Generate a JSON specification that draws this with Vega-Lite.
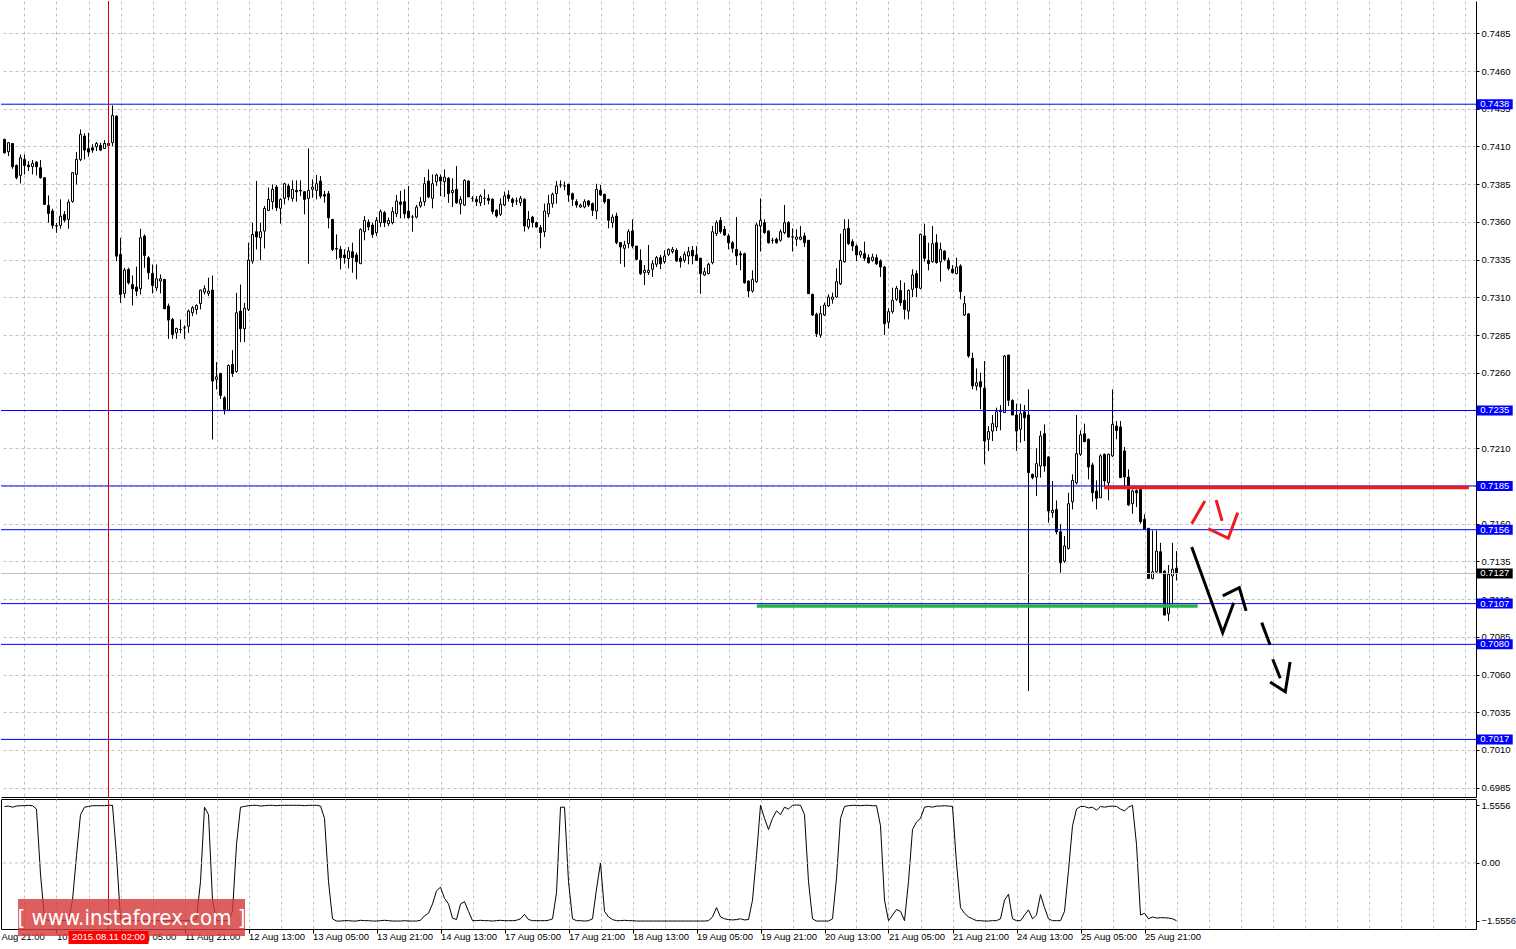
{
"$schema": "https://vega.github.io/schema/vega-lite/v6.json",
"padding": 0,
"background": "#ffffff",
"spacing": 2,
"bounds": "flush",
"config": {"view": {"stroke": null}, "scale": {"continuousPadding": 0}, "axis": {"labelFont": "Liberation Sans", "labelFontSize": 9.5, "labelColor": "#000000", "domainColor": "#000000", "tickColor": "#000000", "gridColor": "#c0c0c0", "gridDash": [3,3], "labelOverlap": false, "labelFlush": false}},
"datasets": {
"candles": [
{"j":0,"o":0.74147,"h":0.74151,"l":0.74054,"c":0.74058,"v":1.52},
{"j":1,"o":0.74065,"h":0.74129,"l":0.74036,"c":0.74125,"v":1.53},
{"j":2,"o":0.74120,"h":0.74120,"l":0.73952,"c":0.73966,"v":1.50},
{"j":3,"o":0.73974,"h":0.73981,"l":0.73882,"c":0.73893,"v":1.53},
{"j":4,"o":0.73908,"h":0.74047,"l":0.73855,"c":0.74025,"v":1.54},
{"j":5,"o":0.74014,"h":0.74047,"l":0.73915,"c":0.73974,"v":1.54},
{"j":6,"o":0.73977,"h":0.74003,"l":0.73937,"c":0.73966,"v":1.55},
{"j":7,"o":0.73966,"h":0.74010,"l":0.73915,"c":0.73988,"v":1.54},
{"j":8,"o":0.73996,"h":0.74003,"l":0.73908,"c":0.73966,"v":1.45},
{"j":9,"o":0.73959,"h":0.74010,"l":0.73886,"c":0.73893,"v":-0.3},
{"j":10,"o":0.73893,"h":0.73893,"l":0.73716,"c":0.73716,"v":-1.5},
{"j":11,"o":0.73709,"h":0.73775,"l":0.73594,"c":0.73656,"v":-1.55},
{"j":12,"o":0.73672,"h":0.73687,"l":0.73555,"c":0.73577,"v":-1.55},
{"j":13,"o":0.73573,"h":0.73594,"l":0.73528,"c":0.73575,"v":-1.55},
{"j":14,"o":0.73577,"h":0.73749,"l":0.73555,"c":0.73638,"v":-1.55},
{"j":15,"o":0.73649,"h":0.73672,"l":0.73599,"c":0.73612,"v":-1.55},
{"j":16,"o":0.73616,"h":0.73749,"l":0.73555,"c":0.73731,"v":-1.55},
{"j":17,"o":0.73736,"h":0.73930,"l":0.73727,"c":0.73926,"v":-1.0},
{"j":18,"o":0.73915,"h":0.74063,"l":0.73848,"c":0.74014,"v":0.2},
{"j":19,"o":0.74014,"h":0.74213,"l":0.74003,"c":0.74180,"v":1.3},
{"j":20,"o":0.74169,"h":0.74187,"l":0.74014,"c":0.74076,"v":1.50},
{"j":21,"o":0.74085,"h":0.74191,"l":0.74032,"c":0.74063,"v":1.52},
{"j":22,"o":0.74091,"h":0.74114,"l":0.74058,"c":0.74076,"v":1.54},
{"j":23,"o":0.74098,"h":0.74129,"l":0.74069,"c":0.74120,"v":1.54},
{"j":24,"o":0.74107,"h":0.74125,"l":0.74069,"c":0.74076,"v":1.54},
{"j":25,"o":0.74087,"h":0.74142,"l":0.74085,"c":0.74120,"v":1.54},
{"j":26,"o":0.74120,"h":0.74129,"l":0.74102,"c":0.74107,"v":1.55},
{"j":27,"o":0.74125,"h":0.74372,"l":0.74102,"c":0.74306,"v":1.55},
{"j":28,"o":0.74301,"h":0.74306,"l":0.73340,"c":0.73373,"v":0.2},
{"j":29,"o":0.73384,"h":0.73495,"l":0.73064,"c":0.73119,"v":-1.5},
{"j":30,"o":0.73126,"h":0.73296,"l":0.73097,"c":0.73281,"v":-1.55},
{"j":31,"o":0.73285,"h":0.73296,"l":0.73185,"c":0.73196,"v":-1.55},
{"j":32,"o":0.73185,"h":0.73245,"l":0.73046,"c":0.73157,"v":-1.55},
{"j":33,"o":0.73168,"h":0.73303,"l":0.73108,"c":0.73141,"v":-1.55},
{"j":34,"o":0.73157,"h":0.73555,"l":0.73119,"c":0.73495,"v":-1.55},
{"j":35,"o":0.73506,"h":0.73517,"l":0.73296,"c":0.73378,"v":-1.55},
{"j":36,"o":0.73362,"h":0.73373,"l":0.73219,"c":0.73263,"v":-1.55},
{"j":37,"o":0.73258,"h":0.73318,"l":0.73126,"c":0.73179,"v":-1.55},
{"j":38,"o":0.73163,"h":0.73318,"l":0.73141,"c":0.73223,"v":-1.55},
{"j":39,"o":0.73208,"h":0.73252,"l":0.73126,"c":0.73223,"v":-1.55},
{"j":40,"o":0.73219,"h":0.73219,"l":0.73024,"c":0.73024,"v":-1.55},
{"j":41,"o":0.73042,"h":0.73059,"l":0.72825,"c":0.72949,"v":-1.55},
{"j":42,"o":0.72953,"h":0.72964,"l":0.72825,"c":0.72854,"v":-1.55},
{"j":43,"o":0.72865,"h":0.72898,"l":0.72825,"c":0.72894,"v":-1.55},
{"j":44,"o":0.72887,"h":0.72953,"l":0.72861,"c":0.72887,"v":-1.55},
{"j":45,"o":0.72898,"h":0.72914,"l":0.72825,"c":0.72898,"v":-1.55},
{"j":46,"o":0.72909,"h":0.73020,"l":0.72865,"c":0.73009,"v":-1.55},
{"j":47,"o":0.72998,"h":0.73042,"l":0.72975,"c":0.73031,"v":-1.55},
{"j":48,"o":0.73020,"h":0.73053,"l":0.72987,"c":0.73046,"v":-1.5},
{"j":49,"o":0.73059,"h":0.73152,"l":0.73020,"c":0.73148,"v":-0.5},
{"j":50,"o":0.73135,"h":0.73179,"l":0.73119,"c":0.73157,"v":1.50},
{"j":51,"o":0.73126,"h":0.73230,"l":0.73108,"c":0.73141,"v":1.3},
{"j":52,"o":0.73148,"h":0.73245,"l":0.72158,"c":0.72545,"v":-1.0},
{"j":53,"o":0.72556,"h":0.72670,"l":0.72489,"c":0.72573,"v":-1.55},
{"j":54,"o":0.72595,"h":0.72600,"l":0.72427,"c":0.72450,"v":-1.55},
{"j":55,"o":0.72434,"h":0.72445,"l":0.72324,"c":0.72357,"v":-1.55},
{"j":56,"o":0.72352,"h":0.72655,"l":0.72346,"c":0.72648,"v":-1.55},
{"j":57,"o":0.72655,"h":0.72750,"l":0.72573,"c":0.72595,"v":-1.3},
{"j":58,"o":0.72609,"h":0.73130,"l":0.72600,"c":0.72998,"v":0.5},
{"j":59,"o":0.73009,"h":0.73185,"l":0.72803,"c":0.72892,"v":1.50},
{"j":60,"o":0.72892,"h":0.73064,"l":0.72803,"c":0.73028,"v":1.52},
{"j":61,"o":0.73020,"h":0.73462,"l":0.73009,"c":0.73347,"v":1.54},
{"j":62,"o":0.73340,"h":0.73595,"l":0.73323,"c":0.73517,"v":1.55},
{"j":63,"o":0.73535,"h":0.73871,"l":0.73418,"c":0.73500,"v":1.55},
{"j":64,"o":0.73495,"h":0.73595,"l":0.73345,"c":0.73535,"v":1.53},
{"j":65,"o":0.73539,"h":0.73705,"l":0.73424,"c":0.73690,"v":1.54},
{"j":66,"o":0.73676,"h":0.73827,"l":0.73672,"c":0.73749,"v":1.55},
{"j":67,"o":0.73734,"h":0.73849,"l":0.73683,"c":0.73816,"v":1.55},
{"j":68,"o":0.73831,"h":0.73844,"l":0.73672,"c":0.73694,"v":1.54},
{"j":69,"o":0.73690,"h":0.73756,"l":0.73588,"c":0.73749,"v":1.55},
{"j":70,"o":0.73756,"h":0.73860,"l":0.73716,"c":0.73853,"v":1.55},
{"j":71,"o":0.73838,"h":0.73853,"l":0.73743,"c":0.73765,"v":1.55},
{"j":72,"o":0.73756,"h":0.73875,"l":0.73734,"c":0.73816,"v":1.55},
{"j":73,"o":0.73809,"h":0.73875,"l":0.73734,"c":0.73800,"v":1.55},
{"j":74,"o":0.73809,"h":0.73875,"l":0.73771,"c":0.73805,"v":1.55},
{"j":75,"o":0.73800,"h":0.73805,"l":0.73650,"c":0.73749,"v":1.54},
{"j":76,"o":0.73756,"h":0.74087,"l":0.73323,"c":0.73809,"v":1.55},
{"j":77,"o":0.73816,"h":0.73882,"l":0.73760,"c":0.73831,"v":1.55},
{"j":78,"o":0.73809,"h":0.73911,"l":0.73749,"c":0.73853,"v":1.55},
{"j":79,"o":0.73871,"h":0.73904,"l":0.73756,"c":0.73771,"v":1.53},
{"j":80,"o":0.73782,"h":0.73805,"l":0.73727,"c":0.73771,"v":1.2},
{"j":81,"o":0.73787,"h":0.73805,"l":0.73557,"c":0.73628,"v":-0.5},
{"j":82,"o":0.73617,"h":0.73617,"l":0.73407,"c":0.73418,"v":-1.5},
{"j":83,"o":0.73423,"h":0.73517,"l":0.73352,"c":0.73420,"v":-1.56},
{"j":84,"o":0.73418,"h":0.73440,"l":0.73285,"c":0.73363,"v":-1.56},
{"j":85,"o":0.73380,"h":0.73418,"l":0.73323,"c":0.73363,"v":-1.55},
{"j":86,"o":0.73358,"h":0.73433,"l":0.73292,"c":0.73407,"v":-1.55},
{"j":87,"o":0.73402,"h":0.73462,"l":0.73263,"c":0.73363,"v":-1.56},
{"j":88,"o":0.73380,"h":0.73396,"l":0.73219,"c":0.73336,"v":-1.56},
{"j":89,"o":0.73323,"h":0.73557,"l":0.73323,"c":0.73550,"v":-1.54},
{"j":90,"o":0.73535,"h":0.73639,"l":0.73478,"c":0.73610,"v":-1.55},
{"j":91,"o":0.73599,"h":0.73617,"l":0.73544,"c":0.73566,"v":-1.55},
{"j":92,"o":0.73579,"h":0.73595,"l":0.73495,"c":0.73517,"v":-1.56},
{"j":93,"o":0.73528,"h":0.73632,"l":0.73506,"c":0.73610,"v":-1.56},
{"j":94,"o":0.73595,"h":0.73683,"l":0.73566,"c":0.73668,"v":-1.55},
{"j":95,"o":0.73661,"h":0.73672,"l":0.73566,"c":0.73595,"v":-1.54},
{"j":96,"o":0.73588,"h":0.73628,"l":0.73573,"c":0.73610,"v":-1.55},
{"j":97,"o":0.73595,"h":0.73698,"l":0.73584,"c":0.73668,"v":-1.56},
{"j":98,"o":0.73654,"h":0.73778,"l":0.73632,"c":0.73738,"v":-1.56},
{"j":99,"o":0.73732,"h":0.73805,"l":0.73623,"c":0.73716,"v":-1.56},
{"j":100,"o":0.73734,"h":0.73816,"l":0.73623,"c":0.73654,"v":-1.55},
{"j":101,"o":0.73672,"h":0.73838,"l":0.73623,"c":0.73628,"v":-1.56},
{"j":102,"o":0.73632,"h":0.73645,"l":0.73535,"c":0.73632,"v":-1.56},
{"j":103,"o":0.73632,"h":0.73712,"l":0.73623,"c":0.73698,"v":-1.56},
{"j":104,"o":0.73705,"h":0.73765,"l":0.73694,"c":0.73732,"v":-1.54},
{"j":105,"o":0.73734,"h":0.73897,"l":0.73705,"c":0.73853,"v":-1.42},
{"j":106,"o":0.73871,"h":0.73948,"l":0.73756,"c":0.73765,"v":-1.35},
{"j":107,"o":0.73756,"h":0.73915,"l":0.73690,"c":0.73853,"v":-1.1},
{"j":108,"o":0.73866,"h":0.73920,"l":0.73838,"c":0.73911,"v":-0.75},
{"j":109,"o":0.73897,"h":0.73915,"l":0.73771,"c":0.73871,"v":-0.65},
{"j":110,"o":0.73866,"h":0.73948,"l":0.73765,"c":0.73897,"v":-0.95},
{"j":111,"o":0.73889,"h":0.73897,"l":0.73727,"c":0.73787,"v":-1.1},
{"j":112,"o":0.73794,"h":0.73889,"l":0.73699,"c":0.73809,"v":-1.48},
{"j":113,"o":0.73816,"h":0.73970,"l":0.73720,"c":0.73727,"v":-1.52},
{"j":114,"o":0.73720,"h":0.73771,"l":0.73650,"c":0.73749,"v":-1.1},
{"j":115,"o":0.73712,"h":0.73882,"l":0.73705,"c":0.73875,"v":-1.04},
{"j":116,"o":0.73871,"h":0.73875,"l":0.73765,"c":0.73765,"v":-1.3},
{"j":117,"o":0.73756,"h":0.73771,"l":0.73734,"c":0.73756,"v":-1.55},
{"j":118,"o":0.73749,"h":0.73771,"l":0.73705,"c":0.73734,"v":-1.55},
{"j":119,"o":0.73727,"h":0.73782,"l":0.73705,"c":0.73771,"v":-1.54},
{"j":120,"o":0.73756,"h":0.73816,"l":0.73712,"c":0.73756,"v":-1.55},
{"j":121,"o":0.73756,"h":0.73783,"l":0.73717,"c":0.73743,"v":-1.55},
{"j":122,"o":0.73750,"h":0.73756,"l":0.73650,"c":0.73668,"v":-1.56},
{"j":123,"o":0.73677,"h":0.73684,"l":0.73628,"c":0.73639,"v":-1.55},
{"j":124,"o":0.73650,"h":0.73756,"l":0.73639,"c":0.73717,"v":-1.54},
{"j":125,"o":0.73712,"h":0.73801,"l":0.73705,"c":0.73772,"v":-1.55},
{"j":126,"o":0.73779,"h":0.73809,"l":0.73734,"c":0.73756,"v":-1.55},
{"j":127,"o":0.73750,"h":0.73761,"l":0.73699,"c":0.73728,"v":-1.55},
{"j":128,"o":0.73739,"h":0.73761,"l":0.73712,"c":0.73739,"v":-1.54},
{"j":129,"o":0.73728,"h":0.73772,"l":0.73705,"c":0.73756,"v":-1.5},
{"j":130,"o":0.73750,"h":0.73756,"l":0.73535,"c":0.73573,"v":-1.38},
{"j":131,"o":0.73566,"h":0.73672,"l":0.73551,"c":0.73617,"v":-1.52},
{"j":132,"o":0.73632,"h":0.73639,"l":0.73562,"c":0.73595,"v":-1.55},
{"j":133,"o":0.73595,"h":0.73602,"l":0.73562,"c":0.73566,"v":-1.55},
{"j":134,"o":0.73562,"h":0.73580,"l":0.73425,"c":0.73529,"v":-1.55},
{"j":135,"o":0.73535,"h":0.73721,"l":0.73500,"c":0.73672,"v":-1.55},
{"j":136,"o":0.73654,"h":0.73779,"l":0.73632,"c":0.73721,"v":-1.54},
{"j":137,"o":0.73721,"h":0.73794,"l":0.73694,"c":0.73783,"v":-1.5},
{"j":138,"o":0.73787,"h":0.73871,"l":0.73721,"c":0.73838,"v":-0.8},
{"j":139,"o":0.73845,"h":0.73875,"l":0.73827,"c":0.73845,"v":1.5},
{"j":140,"o":0.73838,"h":0.73867,"l":0.73809,"c":0.73838,"v":1.5},
{"j":141,"o":0.73849,"h":0.73853,"l":0.73734,"c":0.73779,"v":-0.5},
{"j":142,"o":0.73787,"h":0.73794,"l":0.73706,"c":0.73750,"v":-1.5},
{"j":143,"o":0.73734,"h":0.73750,"l":0.73694,"c":0.73712,"v":-1.55},
{"j":144,"o":0.73699,"h":0.73721,"l":0.73694,"c":0.73712,"v":-1.55},
{"j":145,"o":0.73699,"h":0.73750,"l":0.73690,"c":0.73734,"v":-1.56},
{"j":146,"o":0.73739,"h":0.73743,"l":0.73699,"c":0.73712,"v":-1.55},
{"j":147,"o":0.73721,"h":0.73728,"l":0.73639,"c":0.73677,"v":-1.5},
{"j":148,"o":0.73672,"h":0.73853,"l":0.73617,"c":0.73816,"v":-0.7},
{"j":149,"o":0.73809,"h":0.73845,"l":0.73772,"c":0.73779,"v":0.0},
{"j":150,"o":0.73783,"h":0.73787,"l":0.73721,"c":0.73734,"v":-1.3},
{"j":151,"o":0.73750,"h":0.73750,"l":0.73558,"c":0.73611,"v":-1.45},
{"j":152,"o":0.73595,"h":0.73650,"l":0.73562,"c":0.73632,"v":-1.52},
{"j":153,"o":0.73639,"h":0.73661,"l":0.73452,"c":0.73463,"v":-1.55},
{"j":154,"o":0.73463,"h":0.73463,"l":0.73323,"c":0.73434,"v":-1.55},
{"j":155,"o":0.73425,"h":0.73474,"l":0.73301,"c":0.73447,"v":-1.54},
{"j":156,"o":0.73456,"h":0.73551,"l":0.73425,"c":0.73535,"v":-1.55},
{"j":157,"o":0.73540,"h":0.73617,"l":0.73425,"c":0.73440,"v":-1.55},
{"j":158,"o":0.73440,"h":0.73440,"l":0.73345,"c":0.73352,"v":-1.56},
{"j":159,"o":0.73345,"h":0.73418,"l":0.73248,"c":0.73257,"v":-1.56},
{"j":160,"o":0.73264,"h":0.73314,"l":0.73182,"c":0.73279,"v":-1.56},
{"j":161,"o":0.73264,"h":0.73447,"l":0.73248,"c":0.73279,"v":-1.56},
{"j":162,"o":0.73286,"h":0.73345,"l":0.73235,"c":0.73323,"v":-1.56},
{"j":163,"o":0.73319,"h":0.73374,"l":0.73301,"c":0.73363,"v":-1.56},
{"j":164,"o":0.73363,"h":0.73381,"l":0.73286,"c":0.73323,"v":-1.56},
{"j":165,"o":0.73337,"h":0.73412,"l":0.73323,"c":0.73374,"v":-1.56},
{"j":166,"o":0.73385,"h":0.73425,"l":0.73374,"c":0.73418,"v":-1.56},
{"j":167,"o":0.73403,"h":0.73434,"l":0.73390,"c":0.73418,"v":-1.56},
{"j":168,"o":0.73412,"h":0.73425,"l":0.73337,"c":0.73341,"v":-1.56},
{"j":169,"o":0.73359,"h":0.73374,"l":0.73297,"c":0.73337,"v":-1.56},
{"j":170,"o":0.73345,"h":0.73403,"l":0.73330,"c":0.73385,"v":-1.56},
{"j":171,"o":0.73374,"h":0.73434,"l":0.73319,"c":0.73403,"v":-1.56},
{"j":172,"o":0.73412,"h":0.73440,"l":0.73319,"c":0.73374,"v":-1.56},
{"j":173,"o":0.73381,"h":0.73440,"l":0.73341,"c":0.73345,"v":-1.56},
{"j":174,"o":0.73359,"h":0.73363,"l":0.73124,"c":0.73257,"v":-1.56},
{"j":175,"o":0.73248,"h":0.73297,"l":0.73242,"c":0.73270,"v":-1.56},
{"j":176,"o":0.73257,"h":0.73330,"l":0.73253,"c":0.73319,"v":-1.55},
{"j":177,"o":0.73330,"h":0.73573,"l":0.73319,"c":0.73535,"v":-1.45},
{"j":178,"o":0.73522,"h":0.73610,"l":0.73507,"c":0.73595,"v":-1.2},
{"j":179,"o":0.73610,"h":0.73632,"l":0.73522,"c":0.73535,"v":-1.45},
{"j":180,"o":0.73551,"h":0.73573,"l":0.73507,"c":0.73513,"v":-1.5},
{"j":181,"o":0.73507,"h":0.73522,"l":0.73418,"c":0.73462,"v":-1.52},
{"j":182,"o":0.73462,"h":0.73473,"l":0.73396,"c":0.73425,"v":-1.53},
{"j":183,"o":0.73418,"h":0.73632,"l":0.73314,"c":0.73374,"v":-1.52},
{"j":184,"o":0.73389,"h":0.73407,"l":0.73279,"c":0.73381,"v":-1.5},
{"j":185,"o":0.73389,"h":0.73396,"l":0.73191,"c":0.73197,"v":-1.53},
{"j":186,"o":0.73208,"h":0.73213,"l":0.73102,"c":0.73142,"v":-1.52},
{"j":187,"o":0.73142,"h":0.73279,"l":0.73131,"c":0.73219,"v":-1.0},
{"j":188,"o":0.73204,"h":0.73595,"l":0.73197,"c":0.73580,"v":0.2},
{"j":189,"o":0.73573,"h":0.73756,"l":0.73403,"c":0.73610,"v":1.55},
{"j":190,"o":0.73595,"h":0.73617,"l":0.73522,"c":0.73529,"v":1.2},
{"j":191,"o":0.73540,"h":0.73544,"l":0.73456,"c":0.73462,"v":0.9},
{"j":192,"o":0.73478,"h":0.73495,"l":0.73456,"c":0.73478,"v":1.2},
{"j":193,"o":0.73485,"h":0.73495,"l":0.73456,"c":0.73462,"v":1.4},
{"j":194,"o":0.73478,"h":0.73551,"l":0.73469,"c":0.73535,"v":1.3},
{"j":195,"o":0.73529,"h":0.73712,"l":0.73518,"c":0.73595,"v":1.5},
{"j":196,"o":0.73595,"h":0.73606,"l":0.73496,"c":0.73500,"v":1.45},
{"j":197,"o":0.73500,"h":0.73557,"l":0.73403,"c":0.73500,"v":1.55},
{"j":198,"o":0.73485,"h":0.73551,"l":0.73440,"c":0.73500,"v":1.56},
{"j":199,"o":0.73485,"h":0.73573,"l":0.73478,"c":0.73500,"v":1.55},
{"j":200,"o":0.73507,"h":0.73529,"l":0.73434,"c":0.73462,"v":1.3},
{"j":201,"o":0.73478,"h":0.73478,"l":0.73124,"c":0.73124,"v":-0.5},
{"j":202,"o":0.73120,"h":0.73124,"l":0.72976,"c":0.72983,"v":-1.5},
{"j":203,"o":0.72987,"h":0.72998,"l":0.72837,"c":0.72859,"v":-1.56},
{"j":204,"o":0.72850,"h":0.73043,"l":0.72832,"c":0.72992,"v":-1.56},
{"j":205,"o":0.72983,"h":0.73065,"l":0.72976,"c":0.73049,"v":-1.56},
{"j":206,"o":0.73043,"h":0.73120,"l":0.73036,"c":0.73102,"v":-1.56},
{"j":207,"o":0.73087,"h":0.73131,"l":0.73058,"c":0.73102,"v":-1.5},
{"j":208,"o":0.73102,"h":0.73292,"l":0.73098,"c":0.73204,"v":-0.4},
{"j":209,"o":0.73190,"h":0.73522,"l":0.73182,"c":0.73345,"v":1.2},
{"j":210,"o":0.73336,"h":0.73617,"l":0.73330,"c":0.73551,"v":1.52},
{"j":211,"o":0.73557,"h":0.73617,"l":0.73447,"c":0.73456,"v":1.54},
{"j":212,"o":0.73469,"h":0.73485,"l":0.73407,"c":0.73440,"v":1.55},
{"j":213,"o":0.73440,"h":0.73451,"l":0.73341,"c":0.73381,"v":1.55},
{"j":214,"o":0.73381,"h":0.73412,"l":0.73363,"c":0.73403,"v":1.54},
{"j":215,"o":0.73389,"h":0.73469,"l":0.73341,"c":0.73359,"v":1.55},
{"j":216,"o":0.73363,"h":0.73385,"l":0.73323,"c":0.73330,"v":1.55},
{"j":217,"o":0.73345,"h":0.73389,"l":0.73336,"c":0.73367,"v":1.54},
{"j":218,"o":0.73363,"h":0.73385,"l":0.73314,"c":0.73323,"v":1.54},
{"j":219,"o":0.73341,"h":0.73352,"l":0.73235,"c":0.73301,"v":1.0},
{"j":220,"o":0.73301,"h":0.73308,"l":0.72850,"c":0.72925,"v":-1.0},
{"j":221,"o":0.72936,"h":0.73027,"l":0.72894,"c":0.73005,"v":-1.55},
{"j":222,"o":0.73005,"h":0.73164,"l":0.72992,"c":0.73080,"v":-1.4},
{"j":223,"o":0.73087,"h":0.73175,"l":0.73076,"c":0.73160,"v":-1.25},
{"j":224,"o":0.73146,"h":0.73213,"l":0.73043,"c":0.73065,"v":-1.3},
{"j":225,"o":0.73080,"h":0.73197,"l":0.72954,"c":0.73020,"v":-1.55},
{"j":226,"o":0.73009,"h":0.73153,"l":0.72954,"c":0.73146,"v":-0.5},
{"j":227,"o":0.73153,"h":0.73286,"l":0.73102,"c":0.73248,"v":0.9},
{"j":228,"o":0.73257,"h":0.73279,"l":0.73102,"c":0.73164,"v":1.1},
{"j":229,"o":0.73160,"h":0.73522,"l":0.73153,"c":0.73518,"v":1.2},
{"j":230,"o":0.73507,"h":0.73588,"l":0.73336,"c":0.73359,"v":1.5},
{"j":231,"o":0.73345,"h":0.73462,"l":0.73279,"c":0.73323,"v":1.52},
{"j":232,"o":0.73336,"h":0.73573,"l":0.73330,"c":0.73456,"v":1.5},
{"j":233,"o":0.73462,"h":0.73518,"l":0.73323,"c":0.73330,"v":1.53},
{"j":234,"o":0.73336,"h":0.73462,"l":0.73204,"c":0.73418,"v":1.53},
{"j":235,"o":0.73407,"h":0.73412,"l":0.73341,"c":0.73352,"v":1.54},
{"j":236,"o":0.73345,"h":0.73363,"l":0.73279,"c":0.73292,"v":1.53},
{"j":237,"o":0.73286,"h":0.73314,"l":0.73257,"c":0.73264,"v":1.52},
{"j":238,"o":0.73257,"h":0.73363,"l":0.73253,"c":0.73301,"v":0.0},
{"j":239,"o":0.73308,"h":0.73319,"l":0.73087,"c":0.73138,"v":-1.2},
{"j":240,"o":0.72983,"h":0.73109,"l":0.72976,"c":0.73058,"v":-1.35},
{"j":241,"o":0.72990,"h":0.72995,"l":0.72700,"c":0.72711,"v":-1.45},
{"j":242,"o":0.72696,"h":0.72733,"l":0.72490,"c":0.72513,"v":-1.5},
{"j":243,"o":0.72513,"h":0.72629,"l":0.72483,"c":0.72534,"v":-1.55},
{"j":244,"o":0.72541,"h":0.72601,"l":0.72358,"c":0.72506,"v":-1.55},
{"j":245,"o":0.72497,"h":0.72678,"l":0.71993,"c":0.72148,"v":-1.56},
{"j":246,"o":0.72159,"h":0.72247,"l":0.72082,"c":0.72210,"v":-1.56},
{"j":247,"o":0.72214,"h":0.72320,"l":0.72148,"c":0.72263,"v":-1.55},
{"j":248,"o":0.72241,"h":0.72369,"l":0.72214,"c":0.72342,"v":-1.55},
{"j":249,"o":0.72342,"h":0.72386,"l":0.72219,"c":0.72351,"v":-1.5},
{"j":250,"o":0.72336,"h":0.72718,"l":0.72336,"c":0.72711,"v":-1.0},
{"j":251,"o":0.72718,"h":0.72718,"l":0.72380,"c":0.72417,"v":-0.84},
{"j":252,"o":0.72417,"h":0.72424,"l":0.72320,"c":0.72320,"v":-1.5},
{"j":253,"o":0.72320,"h":0.72395,"l":0.72082,"c":0.72214,"v":-1.55},
{"j":254,"o":0.72225,"h":0.72395,"l":0.72137,"c":0.72329,"v":-1.55},
{"j":255,"o":0.72342,"h":0.72386,"l":0.72148,"c":0.72302,"v":-1.4},
{"j":256,"o":0.72320,"h":0.72490,"l":0.70491,"c":0.71938,"v":-1.26},
{"j":257,"o":0.71927,"h":0.71931,"l":0.71894,"c":0.71905,"v":-1.5},
{"j":258,"o":0.71909,"h":0.72099,"l":0.71783,"c":0.71998,"v":-1.4},
{"j":259,"o":0.71982,"h":0.72214,"l":0.71905,"c":0.72181,"v":-0.85},
{"j":260,"o":0.72196,"h":0.72258,"l":0.71944,"c":0.71982,"v":-1.2},
{"j":261,"o":0.72042,"h":0.72048,"l":0.71606,"c":0.71684,"v":-1.5},
{"j":262,"o":0.71673,"h":0.71883,"l":0.71639,"c":0.71688,"v":-1.55},
{"j":263,"o":0.71694,"h":0.71754,"l":0.71529,"c":0.71546,"v":-1.55},
{"j":264,"o":0.71546,"h":0.71595,"l":0.71275,"c":0.71341,"v":-1.55},
{"j":265,"o":0.71352,"h":0.71518,"l":0.71341,"c":0.71452,"v":-1.3},
{"j":266,"o":0.71436,"h":0.71805,"l":0.71429,"c":0.71732,"v":-0.2},
{"j":267,"o":0.71745,"h":0.71927,"l":0.71694,"c":0.71887,"v":1.0},
{"j":268,"o":0.71871,"h":0.72320,"l":0.71860,"c":0.72064,"v":1.45},
{"j":269,"o":0.72060,"h":0.72219,"l":0.72049,"c":0.72188,"v":1.52},
{"j":270,"o":0.72196,"h":0.72263,"l":0.72143,"c":0.72143,"v":1.52},
{"j":271,"o":0.72159,"h":0.72165,"l":0.71894,"c":0.71975,"v":1.48},
{"j":272,"o":0.71989,"h":0.72004,"l":0.71746,"c":0.71805,"v":1.5},
{"j":273,"o":0.71816,"h":0.71887,"l":0.71695,"c":0.71768,"v":1.42},
{"j":274,"o":0.71772,"h":0.72060,"l":0.71772,"c":0.72049,"v":1.52},
{"j":275,"o":0.72060,"h":0.72064,"l":0.71838,"c":0.71883,"v":1.5},
{"j":276,"o":0.71871,"h":0.72064,"l":0.71754,"c":0.72060,"v":1.52},
{"j":277,"o":0.72049,"h":0.72490,"l":0.72042,"c":0.72258,"v":1.53},
{"j":278,"o":0.72247,"h":0.72280,"l":0.72159,"c":0.72218,"v":1.52},
{"j":279,"o":0.72241,"h":0.72280,"l":0.71905,"c":0.71905,"v":1.45},
{"j":280,"o":0.72082,"h":0.72108,"l":0.71827,"c":0.71909,"v":1.4},
{"j":281,"o":0.71909,"h":0.71960,"l":0.71717,"c":0.71724,"v":1.5},
{"j":282,"o":0.71733,"h":0.71827,"l":0.71666,"c":0.71816,"v":1.55},
{"j":283,"o":0.71820,"h":0.71827,"l":0.71710,"c":0.71805,"v":0.5},
{"j":284,"o":0.71827,"h":0.71827,"l":0.71600,"c":0.71613,"v":-1.4},
{"j":285,"o":0.71628,"h":0.71662,"l":0.71562,"c":0.71562,"v":-1.35},
{"j":286,"o":0.71569,"h":0.71569,"l":0.71237,"c":0.71237,"v":-1.5},
{"j":287,"o":0.71237,"h":0.71555,"l":0.71230,"c":0.71281,"v":-1.45},
{"j":288,"o":0.71281,"h":0.71555,"l":0.71275,"c":0.71418,"v":-1.48},
{"j":289,"o":0.71414,"h":0.71473,"l":0.71268,"c":0.71275,"v":-1.47},
{"j":290,"o":0.71286,"h":0.71290,"l":0.70994,"c":0.70994,"v":-1.47},
{"j":291,"o":0.71003,"h":0.71326,"l":0.70954,"c":0.71264,"v":-1.48},
{"j":292,"o":0.71253,"h":0.71473,"l":0.71065,"c":0.71297,"v":-1.5},
{"j":293,"o":0.71304,"h":0.71418,"l":0.71224,"c":0.71270,"v":-1.55}
],
"levels": [
{"p":0.7438,"t":"0.7438"},{"p":0.7235,"t":"0.7235"},{"p":0.7185,"t":"0.7185"},{"p":0.7156,"t":"0.7156"},{"p":0.7107,"t":"0.7107"},{"p":0.7080,"t":"0.7080"},{"p":0.7017,"t":"0.7017"}
],
"bid": [{"p":0.7127,"t":"0.7127"}],
"cross": [{"j":26,"t":"2015.08.11 02:00"}],
"zones": [
{"j1":274.9,"j2":366.1,"p":0.7184,"g":"resistance"},
{"j1":188.1,"j2":298.3,"p":0.71054,"g":"support"}
],
"paths": [
{"s":"r1","k":0,"j":296.8,"p":0.7160,"g":"alt"},
{"s":"r1","k":1,"j":300.1,"p":0.7175,"g":"alt"},
{"s":"r2","k":0,"j":302.9,"p":0.71757,"g":"alt"},
{"s":"r2","k":1,"j":304.4,"p":0.71618,"g":"alt"},
{"s":"r3","k":0,"j":300.95,"p":0.71567,"g":"alt"},
{"s":"r3","k":1,"j":305.95,"p":0.71503,"g":"alt"},
{"s":"r3","k":2,"j":308.3,"p":0.71673,"g":"alt"},
{"s":"b1","k":0,"j":296.8,"p":0.71445,"g":"main"},
{"s":"b1","k":1,"j":304.55,"p":0.70877,"g":"main"},
{"s":"b1","k":2,"j":307.3,"p":0.71076,"g":"main"},
{"s":"b2","k":0,"j":304.55,"p":0.71121,"g":"main"},
{"s":"b2","k":1,"j":308.7,"p":0.71176,"g":"main"},
{"s":"b2","k":2,"j":310.4,"p":0.71022,"g":"main"},
{"s":"d1","k":0,"j":314.3,"p":0.70944,"g":"main"},
{"s":"d1","k":1,"j":316.4,"p":0.70796,"g":"main"},
{"s":"d2","k":0,"j":317.05,"p":0.70701,"g":"main"},
{"s":"d2","k":1,"j":318.95,"p":0.70575,"g":"main"},
{"s":"d3","k":0,"j":316.4,"p":0.7055,"g":"main"},
{"s":"d3","k":1,"j":320.2,"p":0.70486,"g":"main"},
{"s":"d3","k":2,"j":321.4,"p":0.70683,"g":"main"}
],
"brand": [{"t":"[  www.instaforex.com ]"}]
},
"vconcat": [
{
"width": 1475, "height": 796,
"layer": [
{"data": {"name": "candles"}, "mark": {"type": "rule", "color": "#000000", "strokeWidth": 1},
 "encoding": {
  "x": {"field": "j", "type": "quantitative", "title": null, "scale": {"domain": [-0.875, 367.875], "nice": false, "zero": false, "padding": 0},
        "axis": {"orient": "bottom", "values": [5,13,21,29,37,45,53,61,69,77,85,93,101,109,117,125,133,141,149,157,165,173,181,189,197,205,213,221,229,237,245,253,261,269,277,285,293,301,309,317,325,333,341,349,357,365], "tickCount": 500, "grid": true, "ticks": false, "labels": false, "domain": true, "title": null, "zindex": 0, "labelOverlap": false}},
  "y": {"field": "l", "type": "quantitative", "title": null, "scale": {"domain": [0.697883, 0.750641], "nice": false, "zero": false, "padding": 0},
        "axis": {"orient": "right", "values": [0.6985,0.7010,0.7035,0.7060,0.7085,0.7110,0.7135,0.7160,0.7185,0.7210,0.7235,0.7260,0.7285,0.7310,0.7335,0.7360,0.7385,0.7410,0.7435,0.7460,0.7485], "tickCount": 500, "format": ".4f", "grid": true, "tickSize": 3, "labelPadding": 2, "title": null, "zindex": 0, "labelOverlap": false, "labelBound": false}},
  "y2": {"field": "h"}}},
{"data": {"name": "candles"}, "mark": {"type": "bar", "size": 2, "stroke": "#000000", "strokeWidth": 1},
 "encoding": {
  "x": {"field": "j", "type": "quantitative", "title": null, "scale": {"domain": [-0.875, 367.875], "nice": false, "zero": false, "padding": 0}},
  "y": {"field": "o", "type": "quantitative", "title": null, "scale": {"domain": [0.697883, 0.750641], "nice": false, "zero": false, "padding": 0}},
  "y2": {"field": "c"},
  "fill": {"condition": {"test": "datum.c < datum.o", "value": "#000000"}, "value": "#ffffff"}}},
{"data": {"name": "bid"}, "mark": {"type": "rule", "color": "#c0c0c0", "strokeWidth": 1},
 "encoding": {"y": {"field": "p", "type": "quantitative", "title": null, "scale": {"domain": [0.697883, 0.750641], "nice": false, "zero": false, "padding": 0}}}},
{"data": {"name": "levels"}, "mark": {"type": "rule", "color": "#0000ff", "strokeWidth": 1},
 "encoding": {"y": {"field": "p", "type": "quantitative", "title": null, "scale": {"domain": [0.697883, 0.750641], "nice": false, "zero": false, "padding": 0}}}},
{"data": {"name": "cross"}, "mark": {"type": "rule", "color": "#e00000", "strokeWidth": 1},
 "encoding": {"x": {"field": "j", "type": "quantitative", "title": null, "scale": {"domain": [-0.875, 367.875], "nice": false, "zero": false, "padding": 0}}}},
{"data": {"name": "zones"}, "mark": {"type": "rule", "strokeWidth": 3.5},
 "encoding": {
  "x": {"field": "j1", "type": "quantitative", "title": null, "scale": {"domain": [-0.875, 367.875], "nice": false, "zero": false, "padding": 0}},
  "x2": {"field": "j2"},
  "y": {"field": "p", "type": "quantitative", "title": null, "scale": {"domain": [0.697883, 0.750641], "nice": false, "zero": false, "padding": 0}},
  "color": {"field": "g", "type": "nominal", "scale": {"domain": ["resistance","support","alt","main"], "range": ["#ed1c24","#22b14c","#ed1c24","#000000"]}, "legend": null}}},
{"data": {"name": "paths"}, "mark": {"type": "line", "strokeWidth": 3},
 "encoding": {
  "x": {"field": "j", "type": "quantitative", "title": null, "scale": {"domain": [-0.875, 367.875], "nice": false, "zero": false, "padding": 0}},
  "y": {"field": "p", "type": "quantitative", "title": null, "scale": {"domain": [0.697883, 0.750641], "nice": false, "zero": false, "padding": 0}},
  "detail": {"field": "s"},
  "order": {"field": "k", "type": "quantitative"},
  "color": {"field": "g", "type": "nominal", "scale": {"domain": ["resistance","support","alt","main"], "range": ["#ed1c24","#22b14c","#ed1c24","#000000"]}, "legend": null}}},
{"data": {"name": "levels"}, "mark": {"type": "point", "shape": "M-1,-0.2778L1,-0.2778L1,0.2778L-1,0.2778Z", "size": 1296, "filled": true, "color": "#0000ff", "opacity": 1, "strokeWidth": 0},
 "encoding": {
  "x": {"datum": 372.55, "type": "quantitative", "title": null, "scale": {"domain": [-0.875, 367.875], "nice": false, "zero": false, "padding": 0}},
  "y": {"field": "p", "type": "quantitative", "title": null, "scale": {"domain": [0.697883, 0.750641], "nice": false, "zero": false, "padding": 0}}}},
{"data": {"name": "bid"}, "mark": {"type": "point", "shape": "M-1,-0.2778L1,-0.2778L1,0.2778L-1,0.2778Z", "size": 1296, "filled": true, "color": "#000000", "opacity": 1, "strokeWidth": 0},
 "encoding": {
  "x": {"datum": 372.55, "type": "quantitative", "title": null, "scale": {"domain": [-0.875, 367.875], "nice": false, "zero": false, "padding": 0}},
  "y": {"field": "p", "type": "quantitative", "title": null, "scale": {"domain": [0.697883, 0.750641], "nice": false, "zero": false, "padding": 0}}}},
{"data": {"name": "levels"}, "mark": {"type": "text", "color": "#ffffff", "font": "Liberation Sans", "fontSize": 9.5, "align": "center", "baseline": "middle"},
 "encoding": {
  "x": {"datum": 372.55, "type": "quantitative", "title": null, "scale": {"domain": [-0.875, 367.875], "nice": false, "zero": false, "padding": 0}},
  "y": {"field": "p", "type": "quantitative", "title": null, "scale": {"domain": [0.697883, 0.750641], "nice": false, "zero": false, "padding": 0}},
  "text": {"field": "t"}}},
{"data": {"name": "bid"}, "mark": {"type": "text", "color": "#ffffff", "font": "Liberation Sans", "fontSize": 9.5, "align": "center", "baseline": "middle"},
 "encoding": {
  "x": {"datum": 372.55, "type": "quantitative", "title": null, "scale": {"domain": [-0.875, 367.875], "nice": false, "zero": false, "padding": 0}},
  "y": {"field": "p", "type": "quantitative", "title": null, "scale": {"domain": [0.697883, 0.750641], "nice": false, "zero": false, "padding": 0}},
  "text": {"field": "t"}}}
]
},
{
"width": 1475, "height": 130,
"view": {"stroke": "#000000"},
"layer": [
{"data": {"name": "candles"}, "mark": {"type": "line", "color": "#000000", "strokeWidth": 1},
 "encoding": {
  "x": {"field": "j", "type": "quantitative", "title": null, "scale": {"domain": [-0.875, 367.875], "nice": false, "zero": false, "padding": 0},
        "axis": {"orient": "bottom", "values": [-0.875,5,13,21,29,37,45,53,61,69,77,85,93,101,109,117,125,133,141,149,157,165,173,181,189,197,205,213,221,229,237,245,253,261,269,277,285,293,301,309,317,325,333,341,349,357,365], "tickCount": 500, "grid": true, "domain": false, "tickSize": 4, "labelPadding": -2, "labelAlign": "left", "labelBaseline": "top", "title": null, "zindex": 0, "labelOverlap": false,
                 "gridOpacity": {"condition": {"test": "datum.value < 0", "value": 0}, "value": 1},
                 "tickOpacity": {"condition": {"test": "datum.value % 16 == 13 && datum.value <= 285", "value": 1}, "value": 0},
                 "labelExpr": "datum.value < 0 ? 'Aug 21:00' : ((datum.value % 16 == 13 && datum.value <= 285) ? ['10 Aug 13:00','11 Aug 05:00','11 Aug 21:00','12 Aug 13:00','13 Aug 05:00','13 Aug 21:00','14 Aug 13:00','17 Aug 05:00','17 Aug 21:00','18 Aug 13:00','19 Aug 05:00','19 Aug 21:00','20 Aug 13:00','21 Aug 05:00','21 Aug 21:00','24 Aug 13:00','25 Aug 05:00','25 Aug 21:00'][(datum.value - 13) / 16] : '')"}},
  "y": {"field": "v", "type": "quantitative", "title": null, "scale": {"domain": [-1.774, 1.72], "nice": false, "zero": false, "padding": 0},
        "axis": {"orient": "right", "values": [-1.5556, 0, 1.5556], "tickCount": 50, "grid": false, "domain": false, "tickSize": 3, "labelPadding": 2, "title": null, "zindex": 0, "labelOverlap": false,
                 "labelExpr": "datum.value == 0 ? '0.00' : format(datum.value, '.4f')"}}}},
{"data": {"values": [{}]}, "mark": {"type": "rule", "color": "#c0c0c0", "strokeDash": [3,3], "strokeWidth": 1},
 "encoding": {"y": {"datum": 0, "type": "quantitative", "title": null, "scale": {"domain": [-1.774, 1.72], "nice": false, "zero": false, "padding": 0}}}},
{"data": {"name": "cross"}, "mark": {"type": "rule", "color": "#e00000", "strokeWidth": 1},
 "encoding": {"x": {"field": "j", "type": "quantitative", "title": null, "scale": {"domain": [-0.875, 367.875], "nice": false, "zero": false, "padding": 0}}}},
{"data": {"name": "brand"}, "mark": {"type": "point", "shape": "M-1,-0.163L1,-0.163L1,0.163L-1,0.163Z", "size": 51529, "filled": true, "color": "#d63a3a", "opacity": 0.82, "strokeWidth": 0},
 "encoding": {
  "x": {"datum": 31.75, "type": "quantitative", "title": null, "scale": {"domain": [-0.875, 367.875], "nice": false, "zero": false, "padding": 0}},
  "y": {"datum": -1.465, "type": "quantitative", "title": null, "scale": {"domain": [-1.774, 1.72], "nice": false, "zero": false, "padding": 0}}}},
{"data": {"name": "brand"}, "mark": {"type": "text", "color": "#ffffff", "font": "Liberation Sans Narrow, DejaVu Sans Condensed, Liberation Sans", "fontSize": 22, "align": "center", "baseline": "middle"},
 "encoding": {
  "x": {"datum": 31.75, "type": "quantitative", "title": null, "scale": {"domain": [-0.875, 367.875], "nice": false, "zero": false, "padding": 0}},
  "y": {"datum": -1.465, "type": "quantitative", "title": null, "scale": {"domain": [-1.774, 1.72], "nice": false, "zero": false, "padding": 0}},
  "text": {"field": "t"}}},
{"data": {"name": "cross"}, "mark": {"type": "point", "shape": "M-1,-0.1625L1,-0.1625L1,0.1625L-1,0.1625Z", "size": 6400, "filled": true, "color": "#ff0000", "opacity": 1, "strokeWidth": 0},
 "encoding": {
  "x": {"field": "j", "type": "quantitative", "title": null, "scale": {"domain": [-0.875, 367.875], "nice": false, "zero": false, "padding": 0}},
  "y": {"datum": -2.0, "type": "quantitative", "title": null, "scale": {"domain": [-1.774, 1.72], "nice": false, "zero": false, "padding": 0}}}},
{"data": {"name": "cross"}, "mark": {"type": "text", "color": "#ffffff", "font": "Liberation Sans", "fontSize": 9.5, "align": "center", "baseline": "middle"},
 "encoding": {
  "x": {"field": "j", "type": "quantitative", "title": null, "scale": {"domain": [-0.875, 367.875], "nice": false, "zero": false, "padding": 0}},
  "y": {"datum": -2.0, "type": "quantitative", "title": null, "scale": {"domain": [-1.774, 1.72], "nice": false, "zero": false, "padding": 0}},
  "text": {"field": "t"}}}
]
}
]
}
